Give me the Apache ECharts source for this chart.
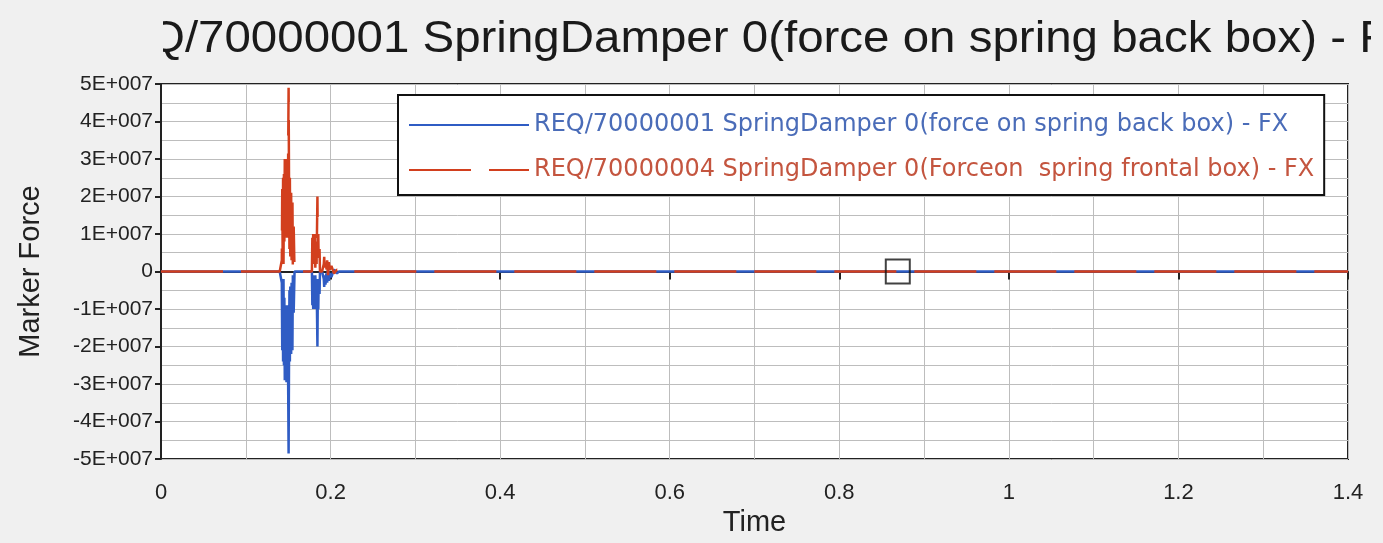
<!DOCTYPE html>
<html>
<head>
<meta charset="utf-8">
<title>Marker Force</title>
<script src="https://cdn.jsdelivr.net/npm/echarts@6/dist/echarts.min.js"></script>
<style>
    html,body{margin:0;padding:0;background:#f0f0f0;}
    #main{width:1383px;height:543px;}
</style>
</head>
<body>
<div id="main"></div>
<script>
var titleText = 'REQ/70000001 SpringDamper 0(force on spring back box) - FX';
var seriesNames = ['REQ/70000001 SpringDamper 0(force on spring back box) - FX',
                   'REQ/70000004 SpringDamper 0(Forceon  spring frontal box) - FX'];
var yTicks = [-5e7, -4e7, -3e7, -2e7, -1e7, 0, 1e7, 2e7, 3e7, 4e7, 5e7];
var xTicks = [0, 0.2, 0.4, 0.6, 0.8, 1, 1.2, 1.4];

// time samples, shared by both series
var times = [0, 0.1400, 0.1425, 0.1430, 0.1435, 0.1440, 0.1445, 0.1450, 0.1455, 0.1460, 0.1465,
             0.1470, 0.1475, 0.1480, 0.1485, 0.1490, 0.1495, 0.1505, 0.1510, 0.1515, 0.1520,
             0.1525, 0.1535, 0.1540, 0.1550, 0.1555, 0.1565, 0.1575, 0.1700, 0.1780, 0.1785,
             0.1790, 0.1795, 0.1800, 0.1805, 0.1810, 0.1815, 0.1820, 0.1830, 0.1835, 0.1845,
             0.1850, 0.1855, 0.1860, 0.1870, 0.1875, 0.1900, 0.1920, 0.1925, 0.1930, 0.1940,
             0.1950, 0.1960, 0.1970, 0.1980, 0.1990, 0.2010, 0.2040, 0.2075, 0.2100, 1.4];
// force on spring back box (blue)
var backBoxForce = [0, 0, -0.3e7, -2.1e7, -0.3e7, -2.4e7, -0.2e7, -2.5e7, -0.7e7, -2.9e7, -1.1e7,
                    -2.8e7, -1.3e7, -2.95e7, -0.9e7, -2.5e7, -1.4e7, -4.85e7, -2.3e7, -0.5e7, -2.4e7,
                    -0.4e7, -2.2e7, -0.3e7, -2.1e7, -0.1e7, -1.1e7, 0, 0, 0, -0.9e7,
                    -0.1e7, -1.0e7, -0.2e7, -0.95e7, -0.3e7, -1.0e7, -0.1e7, -0.8e7, -0.2e7, -2.0e7,
                    -0.4e7, -1.0e7, -0.2e7, -0.6e7, 0, 0, -0.2e7, -0.41e7, -0.1e7, -0.35e7,
                    -0.05e7, -0.3e7, 0.1e7, -0.25e7, -0.05e7, -0.15e7, 0.05e7, -0.05e7, 0, 0];
// force on spring frontal box (red)
var frontalBoxForce = [0, 0, 0.3e7, 2.2e7, 0.4e7, 2.5e7, 0.2e7, 2.6e7, 0.8e7, 3.0e7, 1.0e7,
                       2.9e7, 1.4e7, 3.0e7, 0.9e7, 2.6e7, 1.5e7, 4.9e7, 2.4e7, 0.6e7, 2.5e7,
                       0.4e7, 2.1e7, 0.3e7, 2.0e7, 0.1e7, 1.2e7, 0, 0, 0, 0.9e7,
                       0.1e7, 1.0e7, 0.2e7, 0.9e7, 0.3e7, 1.0e7, 0.1e7, 0.8e7, 0.2e7, 2.0e7,
                       0.4e7, 1.0e7, 0.2e7, 0.6e7, 0, 0, 0.2e7, 0.39e7, 0.1e7, 0.35e7,
                       0.05e7, 0.3e7, -0.1e7, 0.25e7, 0.05e7, 0.15e7, -0.05e7, 0.05e7, 0, 0];
// the little square marker sitting on the zero line
var markerTime = [0.869];
var markerForce = [0];

function pairs(xs, ys) {
    var out = [];
    for (var i = 0; i < xs.length; i++) {
        out.push([xs[i], ys[i]]);
    }
    return out;
}

var myChart = echarts.init(document.getElementById('main'));
var font = '"Liberation Sans", Arial, sans-serif';
var gridColor = '#bdbdbd';

var option = {
    backgroundColor: '#f0f0f0',
    animation: false,
    textStyle: {fontFamily: font},
    graphic: [
        {
            type: 'text', x: 82, y: 40, z: 5, scaleX: 1.055,
            style: {text: titleText, font: '45px ' + font, fill: '#1a1a1a', textVerticalAlign: 'middle'}
        },
        // title is cut off by the plot window on both sides
        {type: 'rect', z: 10, shape: {x: 0, y: 0, width: 163, height: 70}, style: {fill: '#f0f0f0'}},
        {type: 'rect', z: 10, shape: {x: 1371, y: 0, width: 12, height: 70}, style: {fill: '#f0f0f0'}}
    ],
    legend: {
        left: 398,
        top: 95,
        orient: 'vertical',
        backgroundColor: '#fff',
        borderColor: '#111',
        borderWidth: 2,
        borderRadius: 0,
        padding: [18, 10, 13, 10],
        itemGap: 21,
        itemWidth: 120,
        itemHeight: 14,
        itemStyle: {opacity: 0},
        textStyle: {fontSize: 24, fontFamily: '"DejaVu Sans", sans-serif'},
        data: [
            {name: seriesNames[0], textStyle: {color: '#4a6cb8'}},
            {name: seriesNames[1], textStyle: {color: '#c4553f'}}
        ]
    },
    grid: {
        left: 161, right: 35, top: 84, bottom: 84,
        show: true,
        backgroundColor: '#fff',
        borderColor: '#222',
        borderWidth: 2
    },
    xAxis: {
        type: 'value',
        min: xTicks[0],
        max: xTicks[xTicks.length - 1],
        interval: 0.2,
        name: 'Time',
        nameLocation: 'middle',
        nameGap: 45,
        nameTextStyle: {fontSize: 29, color: '#222'},
        axisLine: {lineStyle: {color: '#222', width: 2}},
        axisTick: {show: true, length: 8, lineStyle: {color: '#222', width: 2}},
        axisLabel: {fontSize: 22, color: '#222', margin: 23},
        splitLine: {lineStyle: {color: gridColor, width: 1}},
        minorTick: {show: false, splitNumber: 2},
        minorSplitLine: {show: true, lineStyle: {color: gridColor, width: 1}}
    },
    yAxis: {
        type: 'value',
        min: yTicks[0],
        max: yTicks[yTicks.length - 1],
        interval: 1e7,
        name: 'Marker Force',
        nameLocation: 'middle',
        nameGap: 116,
        nameTextStyle: {fontSize: 29, color: '#222'},
        axisLine: {show: true, lineStyle: {color: '#222', width: 2}},
        axisTick: {show: true, length: 6, lineStyle: {color: '#222', width: 2}},
        axisLabel: {
            fontSize: 21, color: '#222', margin: 8,
            formatter: function (v) {
                if (v === 0) return '0';
                return Math.round(v / 1e7) + 'E+007';
            }
        },
        splitLine: {lineStyle: {color: gridColor, width: 1}},
        minorTick: {show: false, splitNumber: 2},
        minorSplitLine: {show: true, lineStyle: {color: gridColor, width: 1}}
    },
    series: [
        {
            name: seriesNames[0],
            type: 'line',
            symbol: 'none',
            color: '#2f5cc4',
            lineStyle: {color: '#2f5cc4', width: 2.5},
            data: pairs(times, backBoxForce)
        },
        {
            name: seriesNames[1],
            type: 'line',
            symbol: 'none',
            color: '#d23f1e',
            lineStyle: {color: '#d23f1e', width: 2.5, type: [62, 18]},
            data: pairs(times, frontalBoxForce)
        },
        {
            name: 'marker',
            type: 'scatter',
            symbol: 'rect',
            symbolSize: 24,
            z: 5,
            itemStyle: {color: 'rgba(0,0,0,0)', borderColor: '#111', borderWidth: 2},
            data: pairs(markerTime, markerForce)
        }
    ]
};
myChart.setOption(option);
</script>
</body>
</html>
